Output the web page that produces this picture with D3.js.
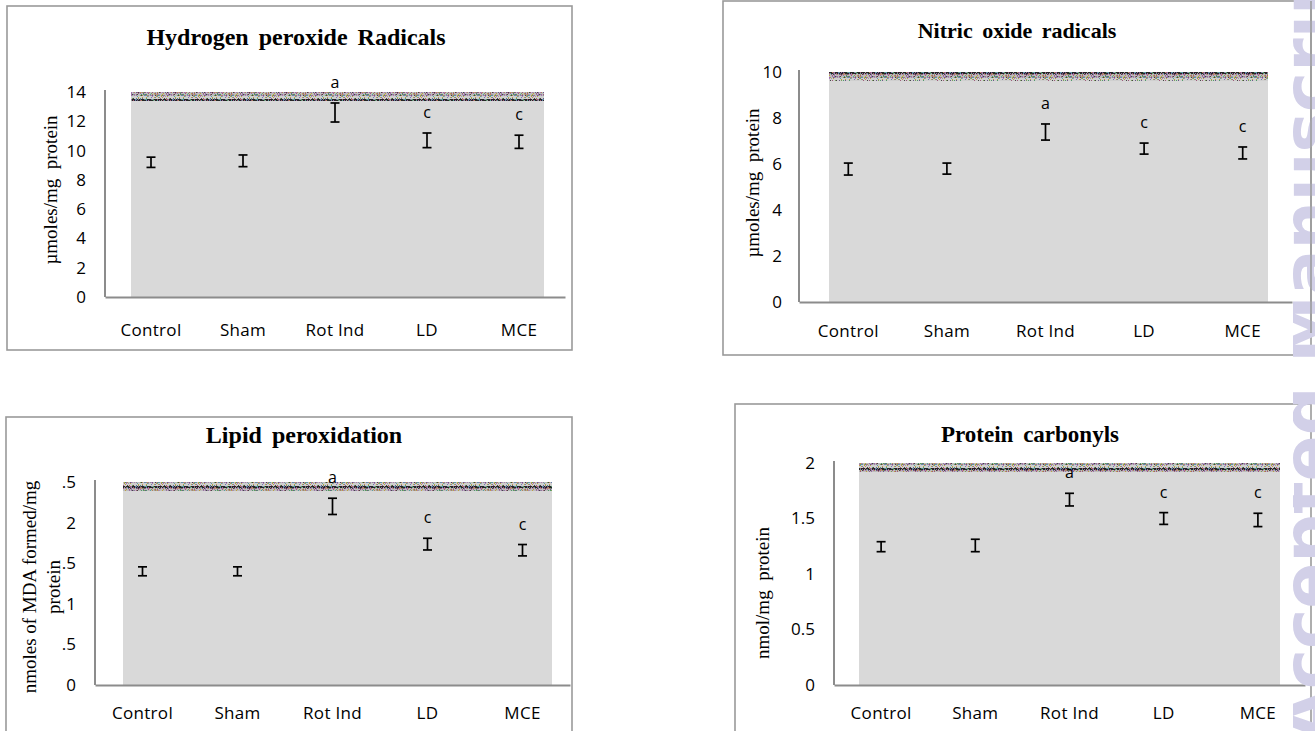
<!DOCTYPE html>
<html><head><meta charset="utf-8">
<script src="https://cdn.jsdelivr.net/npm/d3@7"></script>
<style>html,body{margin:0;padding:0;background:#fff;} svg{display:block;}</style>
</head><body>
<script>
// ---------- DATA ----------
const categories = ["Control", "Sham", "Rot Ind", "LD", "MCE"];

const h2o2Means  = [9.2, 9.3, 12.6, 10.7, 10.6];
const h2o2Errors = [0.35, 0.40, 0.65, 0.50, 0.45];
const h2o2Letters = ["", "", "a", "c", "c"];
const h2o2Ticks = [0, 2, 4, 6, 8, 10, 12, 14];
const h2o2TickLabels = ["0", "2", "4", "6", "8", "10", "12", "14"];

const noMeans  = [5.78, 5.80, 7.39, 6.67, 6.48];
const noErrors = [0.26, 0.24, 0.35, 0.24, 0.26];
const noLetters = ["", "", "a", "c", "c"];
const noTicks = [0, 2, 4, 6, 8, 10];
const noTickLabels = ["0", "2", "4", "6", "8", "10"];

const lpoMeans  = [1.40, 1.40, 2.20, 1.735, 1.66];
const lpoErrors = [0.055, 0.055, 0.10, 0.072, 0.07];
const lpoLetters = ["", "", "a", "c", "c"];
const lpoTicks = [0, 0.5, 1, 1.5, 2, 2.5];
const lpoTickLabels = ["0", ".5", "1", ".5", "2", ".5"];

const pcMeans  = [1.246, 1.257, 1.67, 1.50, 1.487];
const pcErrors = [0.045, 0.056, 0.057, 0.053, 0.06];
const pcLetters = ["", "", "a", "c", "c"];
const pcTicks = [0, 0.5, 1, 1.5, 2];
const pcTickLabels = ["0", "0.5", "1", "1.5", "2"];

// ---------- LAYOUT ----------
const panels = [
  { title: "Hydrogen peroxide Radicals", yTitle: ["\u00b5moles/mg  protein"],
    means: h2o2Means, errors: h2o2Errors, letters: h2o2Letters, ticks: h2o2Ticks, tickLabels: h2o2TickLabels, ymax: 14,
    box: [7, 6, 565, 344], ax0: 105, ax1: 565, yTop: 92, yBottom: 297, gx0: 131, gx1: 544,
    tx: 296, ty: 45, ts: 24, ytx: [50], yty: 190, labelRight: 86, xlabBase: 336 },
  { title: "Nitric oxide radicals", yTitle: ["\u00b5moles/mg  protein"],
    means: noMeans, errors: noErrors, letters: noLetters, ticks: noTicks, tickLabels: noTickLabels, ymax: 10,
    box: [723, 1, 588, 354], ax0: 799, ax1: 1292, yTop: 72, yBottom: 302, gx0: 829, gx1: 1268,
    tx: 1017, ty: 38, ts: 22, ytx: [752], yty: 183, labelRight: 782, xlabBase: 337 },
  { title: "Lipid peroxidation", yTitle: ["nmoles of MDA formed/mg", "protein"],
    means: lpoMeans, errors: lpoErrors, letters: lpoLetters, ticks: lpoTicks, tickLabels: lpoTickLabels, ymax: 2.5,
    box: [6, 417, 566, 330], ax0: 95, ax1: 570, yTop: 482, yBottom: 685, gx0: 123, gx1: 552,
    tx: 304, ty: 443, ts: 24, ytx: [29, 53], yty: 587, labelRight: 76, xlabBase: 719 },
  { title: "Protein carbonyls", yTitle: ["nmol/mg  protein"],
    means: pcMeans, errors: pcErrors, letters: pcLetters, ticks: pcTicks, tickLabels: pcTickLabels, ymax: 2,
    box: [735, 404, 576, 340], ax0: 834, ax1: 1305, yTop: 463, yBottom: 685, gx0: 859, gx1: 1280,
    tx: 1030, ty: 442, ts: 23, ytx: [762], yty: 593, labelRight: 815, xlabBase: 719 }
];

const svg = d3.select("body").append("svg").attr("width", 1315).attr("height", 731);
svg.append("rect").attr("width", 1315).attr("height", 731).attr("fill", "#fff");
const defs = svg.append("defs");

// decorative scan-noise band texture (deterministic)
const palette = ["#9b6fa8", "#4f9a6a", "#b0885a", "#6a7fb0", "#a05a7a", "#5aa0a0", "#c0a040", "#444444",
                 "#7aa05a", "#b07ab0", "#8a8a9a", "#6a5a8a", "#a0a0a0"];
const PW = 37;
const pat = defs.append("pattern").attr("id", "noise").attr("patternUnits", "userSpaceOnUse").attr("width", PW).attr("height", 9);
for (let i = 0; i < PW; i++) {
  for (let j = 0; j < 9; j++) {
    const h = (i * 7 + j * 13 + i * j * 5 + (i % 4) * 11 + (i % 3) * 3) % 19;
    let c;
    if (j < 2) c = h < 11 ? "#262626" : palette[h % palette.length];
    else if (j < 6) c = h < 12 ? palette[(h + j) % palette.length] : "#bcbcbc";
    else c = h < 5 ? palette[(h * 3 + j) % palette.length] : "#cfcfcf";
    pat.append("rect").attr("x", i).attr("y", j).attr("width", 1).attr("height", 1).attr("fill", c);
  }
}

function drawPanel(p) {
  const g = svg.append("g");
  g.append("rect").attr("x", p.box[0]).attr("y", p.box[1]).attr("width", p.box[2]).attr("height", p.box[3])
    .attr("fill", "none").attr("stroke", "#9a9a9a").attr("stroke-width", 1.6);

  const x = d3.scaleBand().domain(categories).range([p.ax0, p.ax1]).padding(0);
  const y = d3.scaleLinear().domain([0, p.ymax]).range([p.yBottom, p.yTop]);

  g.append("rect").attr("x", p.gx0).attr("y", y(p.ymax)).attr("width", p.gx1 - p.gx0)
    .attr("height", y(0) - y(p.ymax)).attr("fill", "#d9d9d9");
  g.append("rect").attr("x", p.gx0).attr("y", y(p.ymax)).attr("width", p.gx1 - p.gx0)
    .attr("height", 9).attr("fill", "url(#noise)");

  // y axis
  const ya = d3.axisLeft(y).tickValues(p.ticks).tickFormat((d, i) => p.tickLabels[i])
    .tickSize(0).tickPadding(p.ax0 - p.labelRight);
  const yg = g.append("g").attr("transform", `translate(${p.ax0},0)`).call(ya);
  yg.select(".domain").attr("stroke", "#8c8c8c").attr("stroke-width", 2)
    .attr("d", `M0,${p.yBottom}V${p.yTop - 2}`);
  yg.selectAll("text").attr("font-family", "'Open Sans'").attr("font-size", 17).attr("fill", "#000");

  // x axis
  const xa = d3.axisBottom(x).tickSize(0).tickPadding(0);
  const xg = g.append("g").attr("transform", `translate(0,${p.yBottom})`).call(xa);
  xg.select(".domain").attr("stroke", "#8c8c8c").attr("stroke-width", 2);
  xg.selectAll("text").attr("dy", null).attr("y", p.xlabBase - p.yBottom)
    .attr("font-family", "'Open Sans'").attr("font-size", 17).attr("letter-spacing", 0.3).attr("fill", "#000");

  // error bars
  const cx = c => x(c) + x.bandwidth() / 2;
  const eb = g.append("g").attr("stroke", "#000").attr("stroke-width", 1.7);
  categories.forEach((c, i) => {
    const m = p.means[i], e = p.errors[i];
    eb.append("line").attr("x1", cx(c)).attr("x2", cx(c)).attr("y1", y(m - e)).attr("y2", y(m + e));
    eb.append("line").attr("x1", cx(c) - 4.5).attr("x2", cx(c) + 4.5).attr("y1", y(m - e)).attr("y2", y(m - e));
    eb.append("line").attr("x1", cx(c) - 4.5).attr("x2", cx(c) + 4.5).attr("y1", y(m + e)).attr("y2", y(m + e));
  });
  // significance letters
  g.append("g").selectAll("text").data(categories).join("text")
    .attr("x", c => cx(c)).attr("y", (c, i) => y(p.means[i] + p.errors[i]) - 15)
    .attr("text-anchor", "middle").attr("font-family", "'Open Sans'").attr("font-size", 16).attr("fill", "#000")
    .text((c, i) => p.letters[i]);

  // title
  g.append("text").attr("x", p.tx).attr("y", p.ty).attr("text-anchor", "middle")
    .attr("font-family", "'Liberation Serif'").attr("font-weight", "bold").attr("font-size", p.ts)
    .attr("word-spacing", 4).attr("fill", "#000").text(p.title);

  // y title
  p.yTitle.forEach((t, k) => {
    g.append("text").attr("transform", `translate(${p.ytx[k]},${p.yty}) rotate(-90)`)
      .attr("text-anchor", "middle").attr("dominant-baseline", "central")
      .attr("font-family", "'Liberation Serif'").attr("font-size", 19).attr("fill", "#000")
      .attr("xml:space", "preserve").text(t);
  });
}
panels.forEach(drawPanel);

// watermark at right edge (only its left fringe shows in the reference)
defs.append("clipPath").attr("id", "wmclip").append("rect").attr("x", 1293).attr("y", 0).attr("width", 30).attr("height", 731);
svg.append("g").attr("clip-path", "url(#wmclip)")
  .append("text").attr("transform", "translate(1331,742) rotate(-90)")
  .attr("font-family", "'DejaVu Sans'").attr("font-weight", "bold").attr("font-size", 68)
  .attr("fill", "#d2d0e8").text("Accepted Manuscript");
svg.append("line").attr("x1", 1311).attr("x2", 1311).attr("y1", 1).attr("y2", 333).attr("stroke", "#9a9a9a").attr("stroke-width", 1.6);
</script>
</body></html>
